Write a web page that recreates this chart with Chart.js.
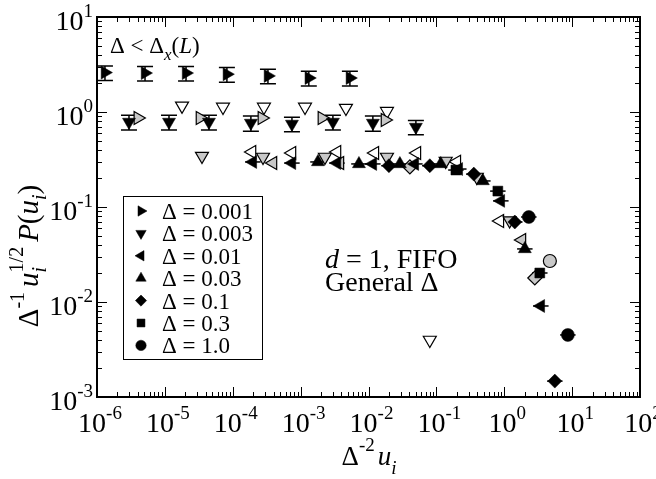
<!DOCTYPE html>
<html>
<head>
<meta charset="utf-8">
<script src="https://cdn.jsdelivr.net/npm/chart.js@4.4.1/dist/chart.umd.min.js"></script>
<style>
  html, body { margin: 0; padding: 0; background: #fff; }
  canvas { display: block; }
</style>
</head>
<body>
<canvas id="chart" width="656" height="479"></canvas>
<script>
// decade ticks on both axes
var xTickPowers = [-6, -5, -4, -3, -2, -1, 0, 1, 2];
var yTickPowers = [-3, -2, -1, 0, 1];

// filled series, the ones listed in the legend
var legendLabels = ['\u0394 = 0.001', '\u0394 = 0.003', '\u0394 = 0.01', '\u0394 = 0.03', '\u0394 = 0.1', '\u0394 = 0.3', '\u0394 = 1.0'];

var d0001X = [1.31e-6, 5.1e-6, 2.05e-5, 8.2e-5, 3.3e-4, 1.32e-3, 5.32e-3];
var d0001Y = [2.6, 2.57, 2.57, 2.5, 2.4, 2.28, 2.28];
var d0001Err = [0.45, 0.45, 0.45, 0.44, 0.42, 0.4, 0.4];

var d0003X = [2.96e-6, 1.15e-5, 4.46e-5, 1.85e-4, 7.45e-4, 2.99e-3, 1.16e-2, 4.99e-2];
var d0003Y = [0.785, 0.785, 0.785, 0.766, 0.748, 0.785, 0.766, 0.695];
var d0003Err = [0.14, 0.14, 0.14, 0.14, 0.13, 0.14, 0.14, 0.12];

var d001X = [1.98e-4, 7.45e-4, 3.43e-3, 1.16e-2, 4.82e-2, 0.214, 0.891, 3.46];
var d001Y = [0.298, 0.29, 0.29, 0.284, 0.284, 0.251, 0.116, 0.00908];

var d003X = [1.8e-3, 7.23e-3, 2.9e-2, 0.116, 0.484, 2.01];
var d003Y = [0.298, 0.284, 0.284, 0.284, 0.188, 0.0362];

var d01X = [2.0e-2, 8.0e-2, 0.356, 1.43, 5.56];
var d01Y = [0.272, 0.272, 0.222, 0.0695, 0.00147];

var d03X = [0.194, 0.805, 3.34];
var d03Y = [0.245, 0.147, 0.0202];

var d1X = [2.3, 8.65];
var d1Y = [0.0785, 0.0045];

// open and grey symbols (not in the legend)
var openDownX = [1.79e-5, 7.18e-5, 2.88e-4, 1.16e-3, 4.65e-3, 1.87e-2, 8.0e-2];
var openDownY = [1.16, 1.13, 1.13, 1.13, 1.1, 1.02, 0.00398];

var greyRightX = [4.0e-6, 3.29e-5, 2.69e-4, 2.06e-3, 1.75e-2];
var greyRightY = [0.865, 0.865, 0.865, 0.865, 0.824];

var greyDownX = [3.52e-5, 2.79e-4, 2.28e-3, 1.87e-2, 0.137, 0.394, 1.2];
var greyDownY = [0.344, 0.336, 0.336, 0.336, 0.305, 0.207, 0.072];

var openLeftX = [1.92e-4, 7.45e-4, 3.43e-3, 1.24e-2, 5.16e-2, 0.2, 0.861];
var openLeftY = [0.379, 0.37, 0.379, 0.37, 0.37, 0.3, 0.0713];

var greyLeftX = [3.91e-4, 3.79e-3, 1.82];
var greyLeftY = [0.29, 0.29, 0.045];

var greyDiamondX = [4.07e-2, 2.82];
var greyDiamondY = [0.264, 0.0179];

var greyCircleX = [4.7];
var greyCircleY = [0.027];

var relXErr = 0.3;

function pts(xs, ys) {
    return xs.map(function (x, i) { return { x: x, y: ys[i] }; });
}

var GREY = '#c8c8c8';
var serif = '"Liberation Serif", "Times New Roman", serif';
function fnt(size, italic) { return (italic ? 'italic ' : '') + size + 'px ' + serif; }

function series(label, xs, ys, style, rot, r, fill, extra) {
    var ds = {
        label: label,
        data: pts(xs, ys),
        pointStyle: style,
        pointRotation: rot,
        pointRadius: r,
        pointHoverRadius: r,
        pointBackgroundColor: fill,
        pointBorderColor: '#000',
        pointBorderWidth: fill === '#000' ? 0.5 : 1.2,
        showLine: false
    };
    for (var k in extra) ds[k] = extra[k];
    return ds;
}

var datasets = [
    series(legendLabels[0], d0001X, d0001Y, 'triangle', 90, 7.5, '#000', { yErr: d0001Err }),
    series(legendLabels[1], d0003X, d0003Y, 'triangle', 180, 7.5, '#000', { yErr: d0003Err }),
    series(legendLabels[2], d001X, d001Y, 'triangle', 270, 7.5, '#000', { xRel: relXErr }),
    series(legendLabels[3], d003X, d003Y, 'triangle', 0, 7.5, '#000', { xRel: relXErr }),
    series(legendLabels[4], d01X, d01Y, 'rectRot', 0, 7, '#000', { xRel: relXErr }),
    series(legendLabels[5], d03X, d03Y, 'rect', 0, 7, '#000', { xRel: relXErr }),
    series(legendLabels[6], d1X, d1Y, 'circle', 0, 6.5, '#000', { xRel: relXErr }),
    series('grey right', greyRightX, greyRightY, 'triangle', 90, 7.5, GREY, {}),
    series('open down', openDownX, openDownY, 'triangle', 180, 7.5, '#fff', {}),
    series('grey down', greyDownX, greyDownY, 'triangle', 180, 7.5, GREY, {}),
    series('open left', openLeftX, openLeftY, 'triangle', 270, 7.5, '#fff', {}),
    series('grey left', greyLeftX, greyLeftY, 'triangle', 270, 7.5, GREY, {}),
    series('grey diamond', greyDiamondX, greyDiamondY, 'rectRot', 0, 7, GREY, {}),
    series('grey circle', greyCircleX, greyCircleY, 'circle', 0, 6.5, GREY, {})
];

// small rich text helper: parts with font, baseline shift, optional stacking
function layoutRich(ctx, parts) {
    var x = 0, prevStart = 0, pos = [];
    parts.forEach(function (p) {
        ctx.font = p.font;
        var w = ctx.measureText(p.t).width;
        var sx = p.back ? prevStart : x;
        pos.push(sx);
        prevStart = sx;
        x = p.back ? Math.max(x, sx + w) : sx + w;
        x += p.gap || 0;
    });
    return { pos: pos, width: x };
}
function drawRich(ctx, parts, x, y, align) {
    var l = layoutRich(ctx, parts);
    var x0 = align === 'center' ? x - l.width / 2 : (align === 'right' ? x - l.width : x);
    ctx.textAlign = 'left';
    ctx.textBaseline = 'alphabetic';
    parts.forEach(function (p, i) {
        ctx.font = p.font;
        ctx.fillText(p.t, x0 + l.pos[i], y + (p.dy || 0));
    });
}

var errorBars = {
    id: 'errorBars',
    beforeDatasetsDraw: function (chart) {
        var ctx = chart.ctx, xs = chart.scales.x, ys = chart.scales.y;
        ctx.save();
        ctx.strokeStyle = '#000';
        ctx.lineWidth = 1.5;
        chart.data.datasets.forEach(function (ds) {
            ds.data.forEach(function (p, i) {
                var px = xs.getPixelForValue(p.x), py = ys.getPixelForValue(p.y);
                if (ds.yErr) {
                    var y1 = ys.getPixelForValue(p.y - ds.yErr[i]);
                    var y2 = ys.getPixelForValue(p.y + ds.yErr[i]);
                    ctx.beginPath();
                    ctx.moveTo(px, y1); ctx.lineTo(px, y2);
                    ctx.moveTo(px - 8, y1); ctx.lineTo(px + 8, y1);
                    ctx.moveTo(px - 8, y2); ctx.lineTo(px + 8, y2);
                    ctx.stroke();
                }
                if (ds.xRel) {
                    var x1 = xs.getPixelForValue(p.x / (1 + ds.xRel));
                    var x2 = xs.getPixelForValue(p.x * (1 + ds.xRel));
                    ctx.beginPath();
                    ctx.moveTo(x1, py); ctx.lineTo(x2, py);
                    ctx.stroke();
                }
            });
        });
        ctx.restore();
    }
};

var frame = {
    id: 'frame',
    afterDraw: function (chart) {
        var ctx = chart.ctx, a = chart.chartArea, xs = chart.scales.x, ys = chart.scales.y;
        ctx.save();
        ctx.fillStyle = '#000';
        ctx.strokeStyle = '#000';

        // ticks, inward on all four sides
        ctx.lineWidth = 1;
        ctx.beginPath();
        xTickPowers.forEach(function (p) {
            for (var m = 1; m <= 9; m++) {
                var v = m * Math.pow(10, p);
                if (v > xs.max * 1.0001) break;
                var px = Math.round(xs.getPixelForValue(v)) + 0.5;
                var len = m === 1 ? 10 : 5;
                ctx.moveTo(px, a.bottom); ctx.lineTo(px, a.bottom - len);
                ctx.moveTo(px, a.top); ctx.lineTo(px, a.top + len);
            }
        });
        yTickPowers.forEach(function (p) {
            for (var m = 1; m <= 9; m++) {
                var v = m * Math.pow(10, p);
                if (v > ys.max * 1.0001) break;
                var py = Math.round(ys.getPixelForValue(v)) + 0.5;
                var len = m === 1 ? 10 : 5;
                ctx.moveTo(a.left, py); ctx.lineTo(a.left + len, py);
                ctx.moveTo(a.right, py); ctx.lineTo(a.right - len, py);
            }
        });
        ctx.stroke();

        ctx.lineWidth = 2;
        ctx.strokeRect(a.left, a.top, a.right - a.left, a.bottom - a.top);

        // tick labels
        xTickPowers.forEach(function (p) {
            drawRich(ctx, [{ t: '10', font: fnt(28) }, { t: String(p), font: fnt(19), dy: -13 }],
                xs.getPixelForValue(Math.pow(10, p)) + 3, 432, 'center');
        });
        yTickPowers.forEach(function (p) {
            drawRich(ctx, [{ t: '10', font: fnt(28) }, { t: String(p), font: fnt(19), dy: -13 }],
                93, ys.getPixelForValue(Math.pow(10, p)) + 13, 'right');
        });

        // axis titles
        drawRich(ctx, [
            { t: '\u0394', font: fnt(27) },
            { t: '-2', font: fnt(19), dy: -14, gap: 3 },
            { t: 'u', font: fnt(27, true) },
            { t: 'i', font: fnt(19, true), dy: 9 }
        ], 369, 465, 'center');

        ctx.save();
        ctx.translate(38, 256);
        ctx.rotate(-Math.PI / 2);
        drawRich(ctx, [
            { t: '\u0394', font: fnt(29) },
            { t: '-1', font: fnt(20), dy: -14, gap: 5 },
            { t: 'u', font: fnt(29, true) },
            { t: 'i', font: fnt(20, true), dy: 8 },
            { t: '1/2', font: fnt(20), dy: -15, back: true, gap: 5 },
            { t: 'P', font: fnt(29, true) },
            { t: '(', font: fnt(29) },
            { t: 'u', font: fnt(29, true) },
            { t: 'i', font: fnt(20, true), dy: 8 },
            { t: ')', font: fnt(29) }
        ], 0, 0, 'center');
        ctx.restore();

        // annotations
        drawRich(ctx, [
            { t: '\u0394 < \u0394', font: fnt(23) },
            { t: 'x', font: fnt(17, true), dy: 7 },
            { t: '(', font: fnt(23) },
            { t: 'L', font: fnt(23, true) },
            { t: ')', font: fnt(23) }
        ], 110, 53, 'left');
        drawRich(ctx, [{ t: 'd', font: fnt(28, true) }, { t: ' = 1, FIFO', font: fnt(28) }], 325, 268, 'left');
        drawRich(ctx, [{ t: 'General \u0394', font: fnt(28) }], 325, 291, 'left');

        // legend box
        ctx.lineWidth = 1;
        ctx.strokeRect(123.5, 196.5, 139, 163);
        for (var i = 0; i < legendLabels.length; i++) {
            var ds = chart.data.datasets[i];
            var cy = 211 + i * 22.4;
            ctx.fillStyle = '#000';
            ctx.strokeStyle = '#000';
            ctx.lineWidth = 0.5;
            Chart.helpers.drawPoint(ctx, {
                pointStyle: ds.pointStyle,
                rotation: ds.pointRotation,
                radius: ds.pointRadius * 0.8,
                borderWidth: 0.5
            }, 141, cy);
            ctx.font = fnt(23);
            ctx.textAlign = 'left';
            ctx.textBaseline = 'alphabetic';
            ctx.fillText(legendLabels[i], 162, cy + 8);
        }
        ctx.restore();
    }
};

new Chart(document.getElementById('chart'), {
    type: 'scatter',
    data: { datasets: datasets },
    options: {
        responsive: false,
        animation: false,
        devicePixelRatio: 1,
        layout: { padding: { left: 97, right: 16, top: 17, bottom: 82 } },
        scales: {
            x: { type: 'logarithmic', min: 1e-6, max: 100, display: false },
            y: { type: 'logarithmic', min: 1e-3, max: 10, display: false }
        },
        plugins: {
            legend: { display: false },
            tooltip: { enabled: false }
        }
    },
    plugins: [errorBars, frame]
});
</script>
</body>
</html>
